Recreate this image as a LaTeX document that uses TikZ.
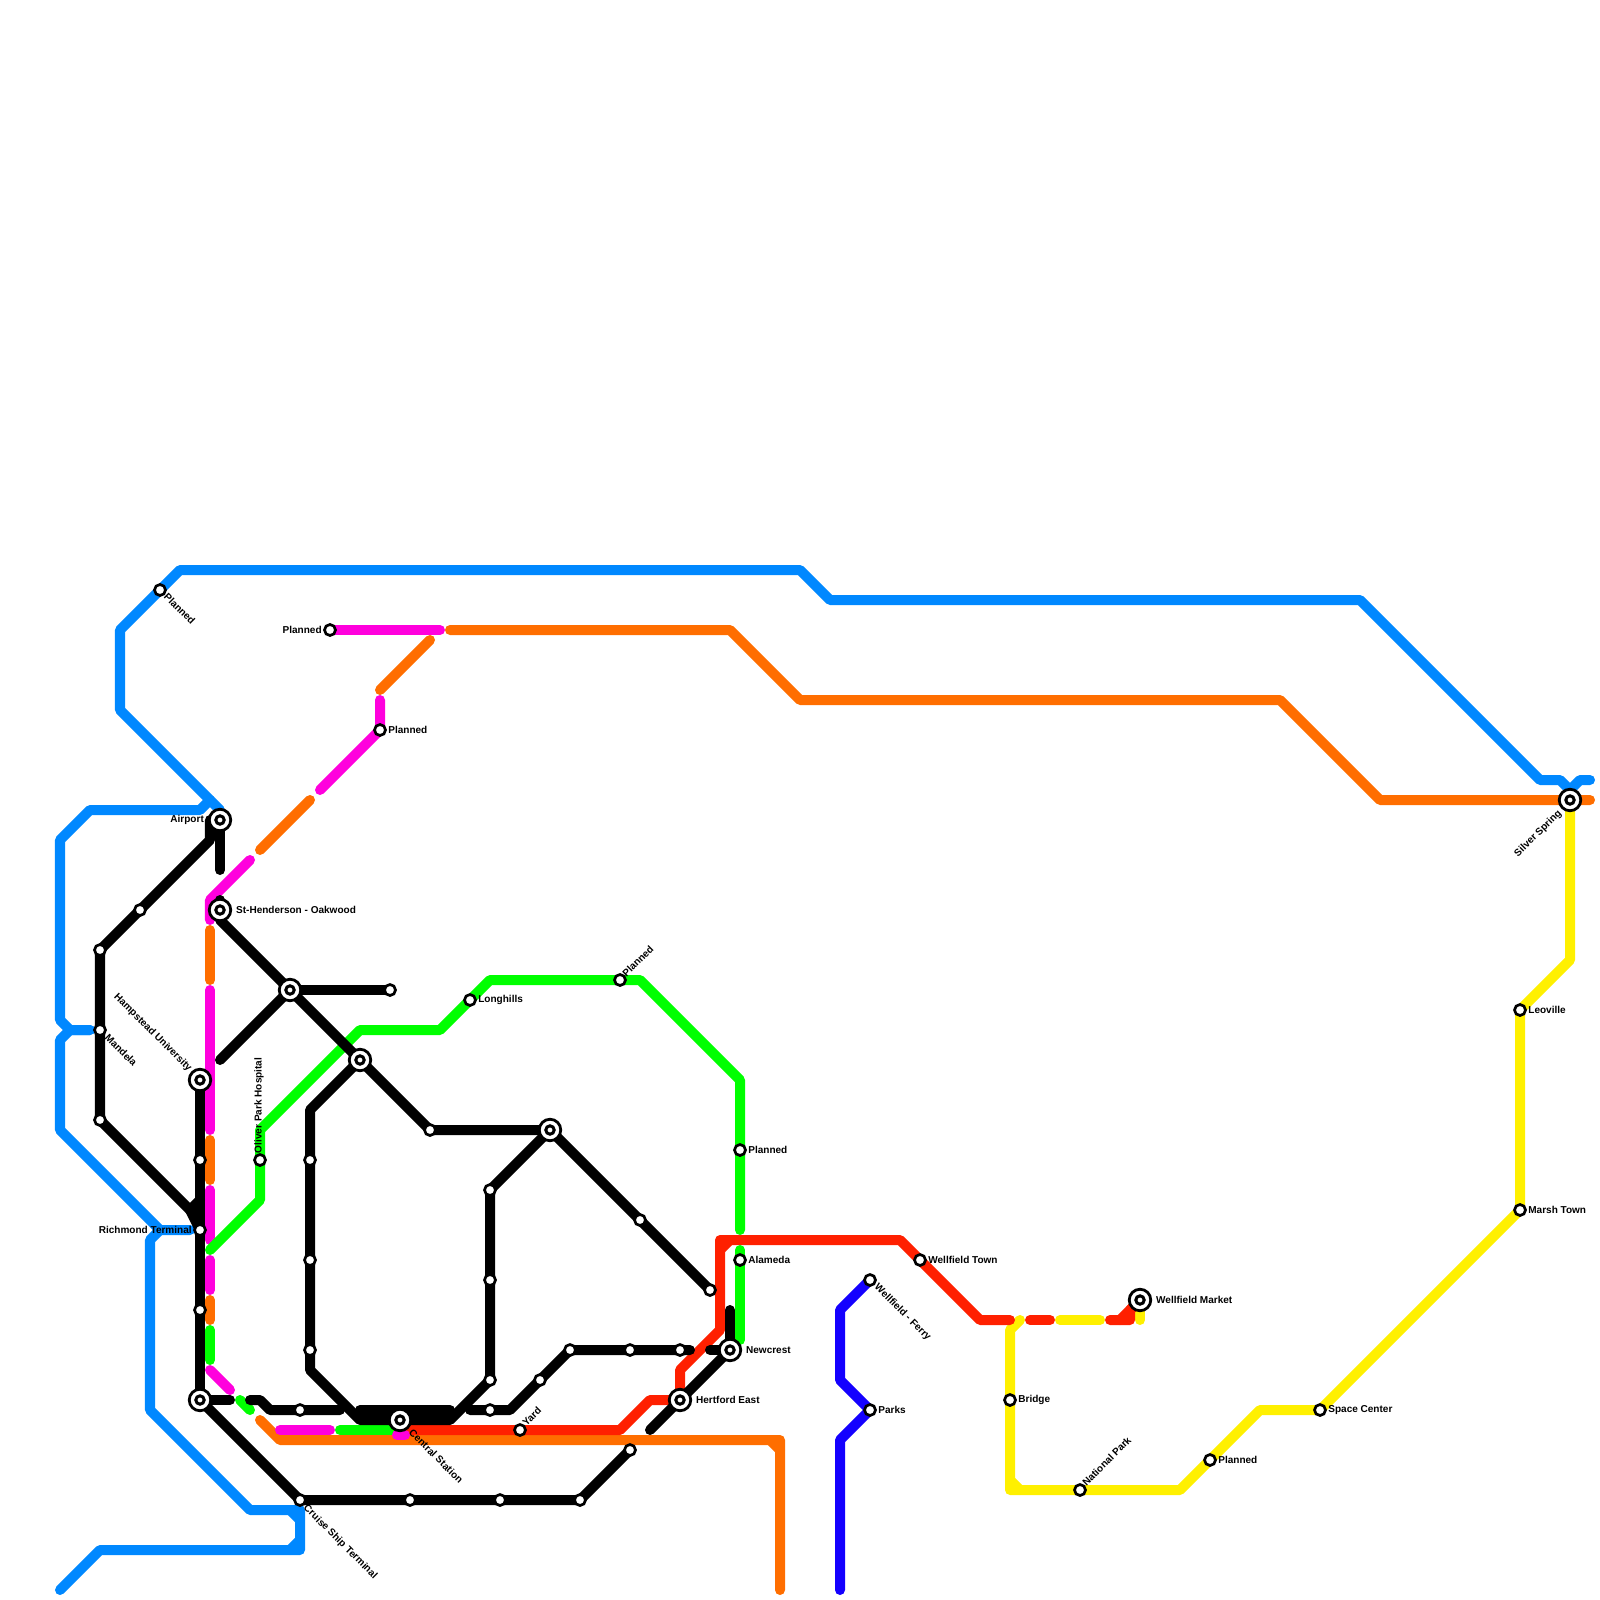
\documentclass[tikz,border=0pt]{standalone}
\usepackage{fontspec}
\setmainfont{Liberation Sans}
\usetikzlibrary{positioning}
\definecolor{BlueLine}{RGB}{0,136,255}
\definecolor{NavyLine}{RGB}{20,0,255}
\definecolor{OrangeLine}{RGB}{255,110,0}
\definecolor{PinkLine}{RGB}{255,0,221}
\definecolor{GreenLine}{RGB}{0,255,0}
\definecolor{RedLine}{RGB}{255,32,0}
\definecolor{YellowLine}{RGB}{255,240,0}
\pgfdeclarelayer{lines}
\pgfsetlayers{lines,main}
\tikzset{
  tube/.style={line width=0.1cm,line cap=round,line join=round},
  stn/.style={circle,draw=black,fill=white,line width=0.027cm,inner sep=0pt,minimum size=0.11cm},
  hub/.style={circle,draw=black,fill=white,line width=0.028cm,inner sep=0pt,minimum size=0.215cm,
    path picture={\draw[black,line width=0.03cm] (path picture bounding box.center) circle (0.042cm);}},
  tag/.style={font=\fontsize{2.85pt}{3pt}\selectfont\bfseries,inner sep=0pt,outer sep=0pt},
  tagdown/.style={tag,rotate=-45,anchor=west},
  tagup/.style={tag,rotate=45,anchor=west},
}
\begin{document}
\begin{tikzpicture}[x=0.01cm,y=-0.01cm,node distance=0.015cm]
\useasboundingbox (0,0) rectangle (1600,1600);
% interchanges
\node[hub] (airport) at (220,820) {};
\node[hub] (henderson) at (220,910) {};
\node[hub] (junction) at (290,990) {};
\node[hub] (midtown) at (360,1060) {};
\node[hub] (hampstead) at (200,1080) {};
\node[hub] (southwest) at (200,1400) {};
\node[hub] (central) at (400,1420) {};
\node[hub] (eastgate) at (550,1130) {};
\node[hub] (newcrest) at (730,1350) {};
\node[hub] (hertford) at (680,1400) {};
\node[hub] (market) at (1140,1300) {};
\node[hub] (silver) at (1570,800) {};
% stations
\node[stn] (planneda) at (160,590) {};
\node[stn] (plannedb) at (330,630) {};
\node[stn] (plannedc) at (380,730) {};
\node[stn] (plannedd) at (620,980) {};
\node[stn] (plannede) at (740,1150) {};
\node[stn] (plannedf) at (1210,1460) {};
\node[stn] (nw) at (140,910) {};
\node[stn] (wa) at (100,950) {};
\node[stn] (mandela) at (100,1030) {};
\node[stn] (wb) at (100,1120) {};
\node[stn] (sa) at (200,1160) {};
\node[stn] (richmond) at (200,1230) {};
\node[stn] (sb) at (200,1310) {};
\node[stn] (oliver) at (260,1160) {};
\node[stn] (ca) at (310,1160) {};
\node[stn] (cb) at (310,1260) {};
\node[stn] (cc) at (310,1350) {};
\node[stn] (spur) at (390,990) {};
\node[stn] (corner) at (430,1130) {};
\node[stn] (longhills) at (470,1000) {};
\node[stn] (da) at (490,1190) {};
\node[stn] (db) at (490,1280) {};
\node[stn] (dc) at (490,1380) {};
\node[stn] (dd) at (490,1410) {};
\node[stn] (ea) at (300,1410) {};
\node[stn] (cruise) at (300,1500) {};
\node[stn] (fa) at (410,1500) {};
\node[stn] (fb) at (500,1500) {};
\node[stn] (fc) at (580,1500) {};
\node[stn] (fd) at (630,1450) {};
\node[stn] (yard) at (520,1430) {};
\node[stn] (ga) at (540,1380) {};
\node[stn] (gb) at (570,1350) {};
\node[stn] (gc) at (630,1350) {};
\node[stn] (gd) at (680,1350) {};
\node[stn] (ha) at (640,1220) {};
\node[stn] (hb) at (710,1290) {};
\node[stn] (alameda) at (740,1260) {};
\node[stn] (ferry) at (870,1280) {};
\node[stn] (parks) at (870,1410) {};
\node[stn] (wtown) at (920,1260) {};
\node[stn] (bridge) at (1010,1400) {};
\node[stn] (national) at (1080,1490) {};
\node[stn] (space) at (1320,1410) {};
\node[stn] (marsh) at (1520,1210) {};
\node[stn] (leoville) at (1520,1010) {};
% free ends of the line pieces
\coordinate (blueend) at (1590,780);
\coordinate (bluenose) at (220,810);
\coordinate (bluestub) at (210,800);
\coordinate (bluecut) at (90,1030);
\coordinate (bluespur) at (190,1230);
\coordinate (bluefoot) at (60,1590);
\coordinate (navyend) at (840,1590);
\coordinate (orangea) at (1590,800);
\coordinate (orangeb) at (450,630);
\coordinate (orangec) at (430,640);
\coordinate (oranged) at (380,690);
\coordinate (orangee) at (310,800);
\coordinate (orangef) at (260,850);
\coordinate (orangeg) at (210,930);
\coordinate (orangeh) at (210,980);
\coordinate (orangei) at (210,1140);
\coordinate (orangej) at (210,1180);
\coordinate (orangek) at (210,1300);
\coordinate (orangel) at (210,1320);
\coordinate (orangem) at (260,1420);
\coordinate (orangen) at (780,1590);
\coordinate (pinka) at (440,630);
\coordinate (pinkb) at (380,700);
\coordinate (pinkc) at (320,790);
\coordinate (pinkd) at (250,860);
\coordinate (pinke) at (210,920);
\coordinate (pinkf) at (210,990);
\coordinate (pinkg) at (210,1130);
\coordinate (pinkh) at (210,1190);
\coordinate (pinki) at (210,1240);
\coordinate (pinkj) at (210,1260);
\coordinate (pinkk) at (210,1290);
\coordinate (pinkl) at (210,1370);
\coordinate (pinkm) at (230,1390);
\coordinate (pinkn) at (280,1430);
\coordinate (pinko) at (330,1430);
\coordinate (pinkp) at (397,1435);
\coordinate (pinkq) at (405,1435);
\coordinate (greena) at (210,1250);
\coordinate (greenb) at (740,1230);
\coordinate (greenc) at (740,1250);
\coordinate (greend) at (740,1340);
\coordinate (greene) at (210,1330);
\coordinate (greenf) at (210,1360);
\coordinate (greeng) at (240,1400);
\coordinate (greenh) at (250,1410);
\coordinate (greeni) at (340,1430);
\coordinate (greenj) at (400,1430);
\coordinate (redstart) at (400,1430);
\coordinate (reda) at (1010,1320);
\coordinate (redb) at (1030,1320);
\coordinate (redc) at (1050,1320);
\coordinate (redd) at (1110,1320);
\coordinate (yellowa) at (1140,1320);
\coordinate (yellowb) at (1060,1320);
\coordinate (yellowc) at (1100,1320);
\coordinate (yellowd) at (1020,1320);
\coordinate (blacka) at (220,870);
\coordinate (blackb) at (220,900);
\coordinate (blackc) at (220,1060);
\coordinate (blackd) at (230,1400);
\coordinate (blacke) at (250,1400);
\coordinate (blackf) at (340,1410);
\coordinate (blackg) at (470,1410);
\coordinate (blackh) at (690,1350);
\coordinate (blacki) at (710,1350);
\coordinate (blackj) at (730,1310);
\coordinate (blackk) at (650,1430);
\coordinate (blackl) at (200,1200);
\begin{pgfonlayer}{lines}
% blue
\draw[tube,BlueLine] (blueend)--(1580,780)--(1570,790)--(1560,780)--(1540,780)--(1360,600)--(830,600)--(800,570)--(180,570)--(planneda.center)--(120,630)--(120,710)--(bluenose);
\draw[tube,BlueLine] (bluestub)--(200,810)--(90,810)--(60,840)--(60,1020)--(70,1030)--(bluecut);
\draw[tube,BlueLine] (bluecut)--(70,1030)--(60,1040)--(60,1130)--(160,1230)--(bluespur);
\draw[tube,BlueLine] (160,1230)--(150,1240)--(150,1410)--(250,1510)--(300,1510)--(300,1550)--(100,1550)--(bluefoot);
\draw[tube,BlueLine] (290,1510)--(300,1520) (300,1540)--(290,1550);
% navy
\draw[tube,NavyLine] (ferry.center)--(840,1310)--(840,1380)--(parks.center)--(840,1440)--(navyend);
% yellow
\draw[tube,YellowLine] (market.center)--(yellowa);
\draw[tube,YellowLine] (yellowb)--(yellowc);
\draw[tube,YellowLine] (yellowd)--(1010,1330)--(bridge.center)--(1010,1490)--(national.center)--(1180,1490)--(plannedf.center)--(1260,1410)--(space.center)--(marsh.center)--(leoville.center)--(1570,960)--(silver.center);
\draw[tube,YellowLine] (1010,1480)--(1020,1490);
% orange
\draw[tube,OrangeLine] (orangea)--(1380,800)--(1280,700)--(800,700)--(730,630)--(orangeb);
\draw[tube,OrangeLine] (orangec)--(oranged);
\draw[tube,OrangeLine] (orangee)--(orangef);
\draw[tube,OrangeLine] (orangeg)--(orangeh);
\draw[tube,OrangeLine] (orangei)--(orangej);
\draw[tube,OrangeLine] (orangek)--(orangel);
\draw[tube,OrangeLine] (orangem)--(280,1440)--(780,1440)--(orangen);
\draw[tube,OrangeLine] (770,1440)--(780,1450);
% red
\draw[tube,RedLine] (redstart)--(620,1430)--(650,1400)--(hertford.center)--(680,1370)--(720,1330)--(720,1240)--(900,1240)--(wtown.center)--(980,1320)--(reda);
\draw[tube,RedLine] (720,1250)--(730,1240);
\draw[tube,RedLine] (redb)--(redc);
\draw[tube,RedLine] (redd)--(1120,1320)--(market.center);
\draw[tube,RedLine] (1120,1320)--(1130,1320)--(1130,1310)--(market.center);
% pink
\draw[tube,PinkLine] (plannedb.center)--(pinka);
\draw[tube,PinkLine] (pinkb)--(plannedc.center)--(pinkc);
\draw[tube,PinkLine] (pinkd)--(210,900)--(pinke);
\draw[tube,PinkLine] (pinkf)--(pinkg);
\draw[tube,PinkLine] (pinkh)--(pinki);
\draw[tube,PinkLine] (pinkj)--(pinkk);
\draw[tube,PinkLine] (pinkl)--(pinkm);
\draw[tube,PinkLine] (pinkn)--(pinko);
% green
\draw[tube,GreenLine] (greena)--(260,1200)--(oliver.center)--(260,1130)--(360,1030)--(440,1030)--(longhills.center)--(490,980)--(plannedd.center)--(640,980)--(740,1080)--(plannede.center)--(greenb);
\draw[tube,GreenLine] (greenc)--(greend);
\draw[tube,GreenLine] (greene)--(greenf);
\draw[tube,GreenLine] (greeng)--(greenh);
\draw[tube,GreenLine] (greeni)--(greenj);
\draw[tube,PinkLine] (pinkp)--(pinkq);
% black
\draw[tube,black] (wa.center)--(210,840)--(210,820);
\draw[tube,black] (airport.center)--(blacka);
\draw[tube,black] (wa.center)--(wb.center)--(190,1210)--(blackl);
\draw[tube,black] (190,1210)--(richmond.center);
\draw[tube,black] (hampstead.center)--(southwest.center);
\draw[tube,black] (blackb)--(220,920)--(junction.center)--(midtown.center)--(corner.center)--(eastgate.center)--(hb.center);
\draw[tube,black] (junction.center)--(spur.center);
\draw[tube,black] (blackc)--(junction.center);
\draw[tube,black] (midtown.center)--(310,1110)--(cc.center)--(310,1370)--(360,1420)--(450,1420)--(dc.center)--(da.center)--(eastgate.center);
\draw[tube,black] (360,1410)--(450,1410);
\draw[tube,black] (southwest.center)--(blackd);
\draw[tube,black] (blacke)--(260,1400)--(270,1410)--(blackf);
\draw[tube,black] (southwest.center)--(cruise.center)--(fc.center)--(fd.center);
\draw[tube,black] (blackg)--(510,1410)--(gb.center)--(blackh);
\draw[tube,black] (blacki)--(newcrest.center)--(blackj);
\draw[tube,black] (newcrest.center)--(blackk);
\end{pgfonlayer}
% labels
\node[tag,left=0.04cm of airport] (airporttag) {Airport};
\node[tag,right=0.04cm of henderson] (hendersontag) {St-Henderson - Oakwood};
\node[tag,left=of plannedb] (plannedbtag) {Planned};
\node[tag,right=of plannedc] (plannedctag) {Planned};
\node[tag,right=of longhills] (longhillstag) {Longhills};
\node[tag,right=of plannede] (plannedetag) {Planned};
\node[tag,right=of alameda] (alamedatag) {Alameda};
\node[tag,right=0.04cm of newcrest] (newcresttag) {Newcrest};
\node[tag,right=0.04cm of hertford] (hertfordtag) {Hertford East};
\node[tag,right=of parks] (parkstag) {Parks};
\node[tag,right=of wtown] (wtowntag) {Wellfield Town};
\node[tag,right=0.04cm of market] (markettag) {Wellfield Market};
\node[tag,right=of bridge] (bridgetag) {Bridge};
\node[tag,right=of plannedf] (plannedftag) {Planned};
\node[tag,right=of space] (spacetag) {Space Center};
\node[tag,right=of marsh] (marshtag) {Marsh Town};
\node[tag,right=of leoville] (leovilletag) {Leoville};
\node[tag,left=of richmond] (richmondtag) {Richmond Terminal};
\node[tagdown] (plannedatag) at (166,595) {Planned};
\node[tagdown] (mandelatag) at (107,1036) {Mandela};
\node[tagdown,anchor=east] (hampsteadtag) at (190,1070) {Hampstead University};
\node[tag,rotate=90,anchor=west] (olivertag) at (259,1153) {Oliver Park Hospital};
\node[tagdown] (centraltag) at (411,1431) {Central Station};
\node[tagdown] (cruisetag) at (305,1507) {Cruise Ship Terminal};
\node[tagdown] (ferrytag) at (876,1286) {Wellfield - Ferry};
\node[tagup] (yardtag) at (524,1424) {Yard};
\node[tagup] (plannedtag) at (624,975) {Planned};
\node[tagup] (nationaltag) at (1084,1484) {National Park};
\node[tagup,anchor=east] (silvertag) at (1560,812) {Silver Spring};
\end{tikzpicture}
\end{document}
